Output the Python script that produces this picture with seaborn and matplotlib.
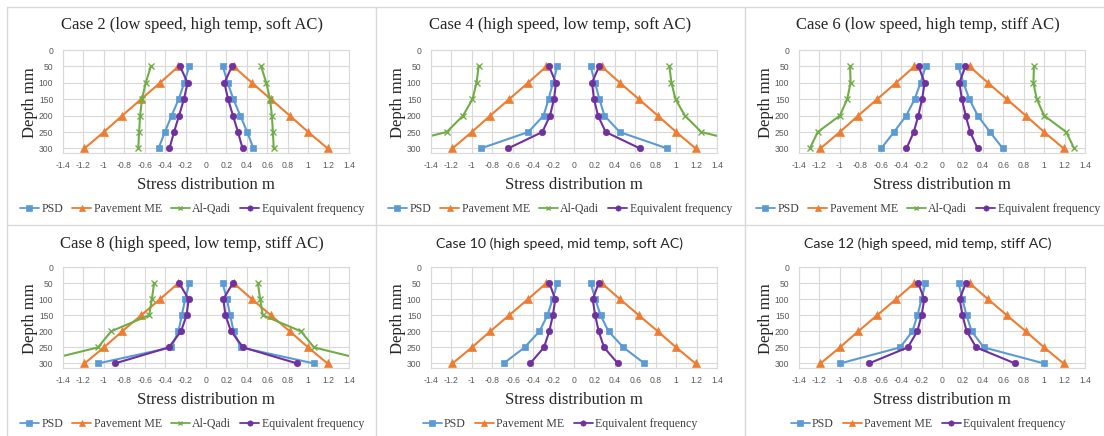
import matplotlib
matplotlib.use("Agg")
import matplotlib.pyplot as plt
from matplotlib.lines import Line2D
import numpy as np
import pandas as pd
import seaborn as sns

sns.set_theme(style="white")

W, H = 1104, 436

# Depth of each evaluation point (mm)
depth = [50, 100, 150, 200, 250, 300]

# Stress distribution magnitudes (mirrored to both sides of the load centre)
pavement_me = [0.27, 0.45, 0.635, 0.82, 1.0, 1.19]

psd_case2 = [0.165, 0.212, 0.268, 0.336, 0.403, 0.465]
alqadi_case2 = [0.54, 0.59, 0.627, 0.645, 0.655, 0.663]
eqf_case2 = [0.254, 0.18, 0.216, 0.264, 0.313, 0.358]

psd_case4 = [0.163, 0.206, 0.249, 0.298, 0.447, 0.912]
alqadi_case4 = [0.934, 0.954, 0.994, 1.086, 1.246, 1.9]
eqf_case4 = [0.245, 0.176, 0.196, 0.235, 0.31, 0.645]

psd_case6 = [0.16, 0.21, 0.268, 0.35, 0.47, 0.595]
alqadi_case6 = [0.9, 0.895, 0.928, 1.0, 1.216, 1.294]
eqf_case6 = [0.229, 0.17, 0.195, 0.232, 0.276, 0.348]

psd_case8 = [0.163, 0.204, 0.237, 0.27, 0.34, 1.06]
alqadi_case8 = [0.508, 0.53, 0.556, 0.93, 1.057, 1.7]
eqf_case8 = [0.263, 0.17, 0.19, 0.245, 0.364, 0.894]

psd_case10 = [0.163, 0.209, 0.26, 0.338, 0.484, 0.69]
eqf_case10 = [0.242, 0.183, 0.207, 0.242, 0.294, 0.43]

psd_case12 = [0.162, 0.2, 0.24, 0.29, 0.41, 1.0]
eqf_case12 = [0.233, 0.173, 0.2, 0.242, 0.335, 0.717]

titles = [
    "Case 2 (low speed, high temp, soft AC)",
    "Case 4 (high speed, low temp, soft AC)",
    "Case 6 (low speed, high temp, stiff AC)",
    "Case 8 (high speed, low temp, stiff AC)",
    "Case 10 (high speed, mid temp, soft AC)",
    "Case 12 (high speed, mid temp, stiff AC)",
]
case_series = [
    {"PSD": psd_case2, "Pavement ME": pavement_me, "Al-Qadi": alqadi_case2, "Equivalent frequency": eqf_case2},
    {"PSD": psd_case4, "Pavement ME": pavement_me, "Al-Qadi": alqadi_case4, "Equivalent frequency": eqf_case4},
    {"PSD": psd_case6, "Pavement ME": pavement_me, "Al-Qadi": alqadi_case6, "Equivalent frequency": eqf_case6},
    {"PSD": psd_case8, "Pavement ME": pavement_me, "Al-Qadi": alqadi_case8, "Equivalent frequency": eqf_case8},
    {"PSD": psd_case10, "Pavement ME": pavement_me, "Equivalent frequency": eqf_case10},
    {"PSD": psd_case12, "Pavement ME": pavement_me, "Equivalent frequency": eqf_case12},
]

xticks = [-1.4, -1.2, -1, -0.8, -0.6, -0.4, -0.2, 0, 0.2, 0.4, 0.6, 0.8, 1, 1.2, 1.4]
yticks = [0, 50, 100, 150, 200, 250, 300]

styles = {
    "PSD": dict(color="#5B9BD5", marker="s", ms=4.6),
    "Pavement ME": dict(color="#ED7D31", marker="^", ms=5.6),
    "Al-Qadi": dict(color="#70AD47", marker="x", ms=4.2),
    "Equivalent frequency": dict(color="#7030A0", marker="o", ms=4.6),
}

SERIF = "Liberation Serif"
SANS = "Liberation Sans"


def fx(x):
    return x / W


def fy(y):
    return 1 - y / H


fig = plt.figure(figsize=(W / 100, H / 100), dpi=100)
fig.patch.set_facecolor("white")

# panel frames
grid_col = "#D9D9D9"
for yy in [7, 225]:
    fig.add_artist(Line2D([fx(7), 1], [fy(yy), fy(yy)], color=grid_col, lw=1.0))
for xx in [7, 376, 745]:
    fig.add_artist(Line2D([fx(xx), fx(xx)], [fy(7), 0], color=grid_col, lw=1.0))

col_origin = [0, 368, 736]
row_origin = [0, 218]

for i, (title, series) in enumerate(zip(titles, case_series)):
    r, c = divmod(i, 3)
    ox, oy = col_origin[c], row_origin[r]
    left, right = ox + 63, ox + 349
    top = oy + 50 if r == 0 else oy + 49
    bottom = oy + 153 if r == 0 else oy + 150
    ax = fig.add_axes([fx(left), fy(bottom), fx(right - left), (bottom - top) / H])

    for name, vals in series.items():
        st = styles[name]
        for sign in (-1, 1):
            df = pd.DataFrame({"stress": [sign * v for v in vals], "depth": depth})
            sns.lineplot(data=df, x="stress", y="depth", orient="y", ax=ax,
                         color=st["color"], marker=st["marker"], markersize=st["ms"],
                         markeredgecolor=st["color"], markeredgewidth=1.0 if st["marker"] == "x" else 0.5,
                         linewidth=1.5, legend=False)

    ax.set_xlim(-1.4, 1.4)
    ax.set_ylim(314, 0)
    ax.set_xticks(xticks)
    ax.set_xticklabels([f"{t:g}" for t in xticks])
    ax.set_yticks(yticks)
    ax.tick_params(axis="both", length=0, labelsize=6.2, labelcolor="#595959")
    ax.tick_params(axis="x", pad=6)
    ax.tick_params(axis="y", pad=7)
    for lab in ax.get_xticklabels() + ax.get_yticklabels():
        lab.set_fontfamily(SANS)
    ax.grid(True, color="#D9D9D9", linewidth=0.8)
    ax.set_axisbelow(True)
    for sp in ax.spines.values():
        sp.set_color("#D9D9D9")
        sp.set_linewidth(0.8)
    ax.set_xlabel("")
    ax.set_ylabel("")

    # title
    tfam = SERIF if i < 4 else "Lato"
    tsize = 12 if i < 4 else 10.2
    fig.text(fx(ox + 192), fy(oy + 25 if r == 0 else oy + 26), title, ha="center", va="center",
             fontsize=tsize, family=tfam, color="#262626")
    # axis titles
    fig.text(fx(ox + 30), fy((top + bottom) / 2 + 1), "Depth mm", rotation=90, ha="center", va="center",
             fontsize=12, family=SERIF, color="#262626")
    fig.text(fx((left + right) / 2), fy(oy + 185 if r == 0 else oy + 182), "Stress distribution m",
             ha="center", va="center", fontsize=12, family=SERIF, color="#262626")

    handles = []
    for name in series:
        st = styles[name]
        handles.append(Line2D([0], [0], color=st["color"], marker=st["marker"],
                              markersize=st["ms"] - 0.8, lw=1.3, markeredgecolor=st["color"],
                              markeredgewidth=1.0 if st["marker"] == "x" else 0.5, label=name))
    leg = ax.legend(handles=handles, loc="center", ncol=len(handles),
                    bbox_to_anchor=(fx(ox + 192), fy(oy + 209 if r == 0 else oy + 206)),
                    bbox_transform=fig.transFigure, frameon=False,
                    handlelength=1.6, handletextpad=0.2, columnspacing=0.75, borderpad=0,
                    prop={"family": SERIF, "size": 8.6})
    for t in leg.get_texts():
        t.set_color("#404040")

fig.savefig("out.png", dpi=100)
